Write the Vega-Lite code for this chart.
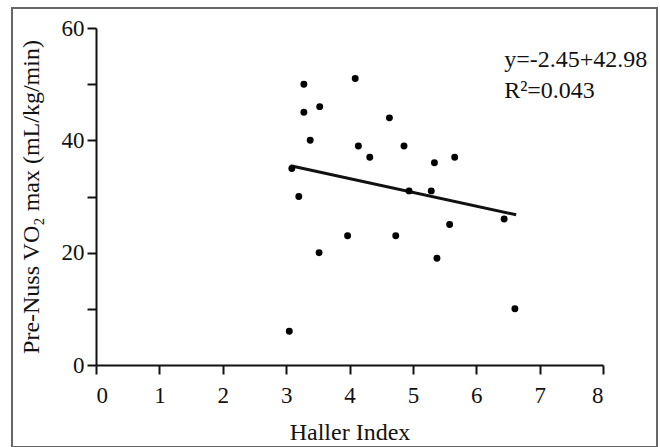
{
  "$schema": "https://vega.github.io/schema/vega-lite/v6.json",
  "width": 645,
  "height": 439,
  "autosize": {"type": "none"},
  "padding": {"left": 12, "top": 8, "right": 3, "bottom": 0},
  "background": "white",
  "config": {
    "view": {"stroke": "#666666", "strokeWidth": 2},
    "font": "Liberation Serif",
    "axis": {
      "grid": false,
      "domainColor": "#111111",
      "domainWidth": 2,
      "tickColor": "#111111",
      "tickWidth": 2,
      "tickSize": 9,
      "labelFont": "Liberation Serif",
      "labelFontSize": 23,
      "labelColor": "#111111",
      "titleFont": "Liberation Serif",
      "titleFontSize": 24,
      "titleFontWeight": "normal",
      "titleColor": "#111111"
    }
  },
  "datasets": {
    "points": [
      {"haller": 3.28, "vo2": 50},
      {"haller": 4.09, "vo2": 51},
      {"haller": 3.28, "vo2": 45},
      {"haller": 3.53, "vo2": 46},
      {"haller": 4.63, "vo2": 44},
      {"haller": 3.38, "vo2": 40},
      {"haller": 4.14, "vo2": 39},
      {"haller": 4.32, "vo2": 37},
      {"haller": 3.09, "vo2": 35},
      {"haller": 3.2, "vo2": 30},
      {"haller": 3.97, "vo2": 23},
      {"haller": 3.52, "vo2": 20},
      {"haller": 3.05, "vo2": 6},
      {"haller": 4.86, "vo2": 39},
      {"haller": 5.34, "vo2": 36},
      {"haller": 5.66, "vo2": 37},
      {"haller": 4.94, "vo2": 31},
      {"haller": 5.29, "vo2": 31},
      {"haller": 6.44, "vo2": 26},
      {"haller": 5.58, "vo2": 25},
      {"haller": 4.73, "vo2": 23},
      {"haller": 5.38, "vo2": 19},
      {"haller": 6.61, "vo2": 10}
    ],
    "fit": [
      {"haller": 3.07, "vo2": 35.46},
      {"haller": 6.63, "vo2": 26.74}
    ],
    "notes": [
      {"haller": 6.44, "vo2": 53.1, "label": "y=-2.45+42.98"},
      {"haller": 6.44, "vo2": 47.6, "label": "R²=0.043"}
    ]
  },
  "layer": [
    {
      "data": {"name": "fit"},
      "mark": {"type": "line", "color": "#111111", "strokeWidth": 3},
      "encoding": {
        "x": {
          "field": "haller", "type": "quantitative",
          "scale": {"domain": [0, 8], "range": [84, 591], "nice": false, "zero": false},
          "axis": {
            "title": "Haller Index",
            "values": [0, 1, 2, 3, 4, 5, 6, 7, 8],
            "format": "d",
            "offset": -82,
            "labelPadding": 10,
            "titlePadding": 13
          }
        },
        "y": {
          "field": "vo2", "type": "quantitative",
          "scale": {"domain": [0, 60], "range": [357, 20], "nice": false, "zero": false},
          "axis": {
            "title": "Pre-Nuss VO₂ max (mL/kg/min)",
            "values": [0, 10, 20, 30, 40, 50, 60],
            "labelExpr": "datum.value % 20 == 0 ? datum.label : ''",
            "offset": -84,
            "labelPadding": 3,
            "titlePadding": 18
          }
        }
      }
    },
    {
      "data": {"name": "points"},
      "mark": {"type": "circle", "color": "#000000", "opacity": 1, "size": 48},
      "encoding": {
        "x": {"field": "haller", "type": "quantitative"},
        "y": {"field": "vo2", "type": "quantitative"}
      }
    },
    {
      "data": {"name": "notes"},
      "mark": {"type": "text", "align": "left", "baseline": "alphabetic", "font": "Liberation Serif", "fontSize": 24, "color": "#111111"},
      "encoding": {
        "x": {"field": "haller", "type": "quantitative"},
        "y": {"field": "vo2", "type": "quantitative"},
        "text": {"field": "label"}
      }
    }
  ]
}
